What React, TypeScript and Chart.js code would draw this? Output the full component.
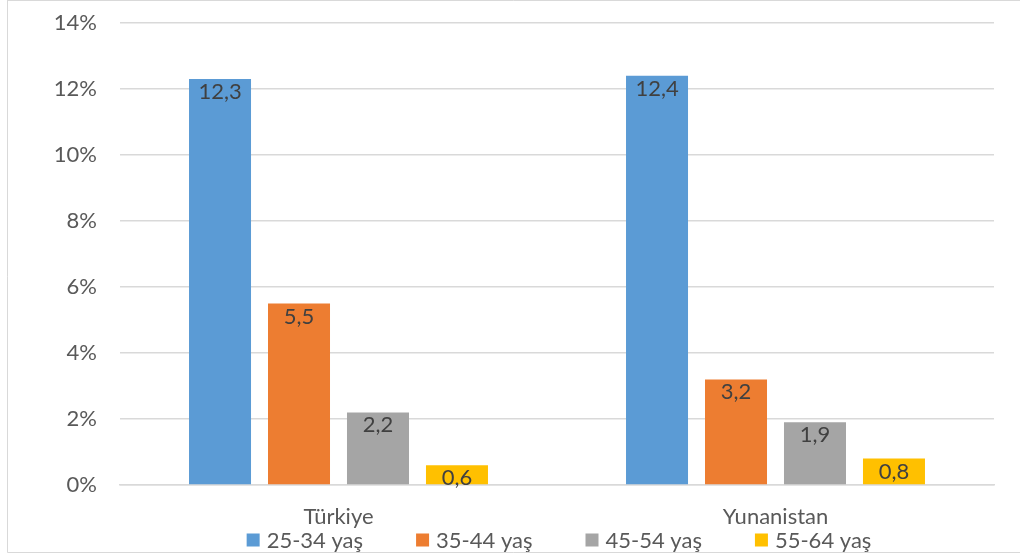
import React, { useEffect, useRef } from "react";
import { Chart, registerables } from "chart.js";

Chart.register(...registerables);

const categories = ["Türkiye", "Yunanistan"];
const seriesLabels = ["25-34 yaş", "35-44 yaş", "45-54 yaş", "55-64 yaş"];
const seriesColors = ["#5B9BD5", "#ED7D31", "#A5A5A5", "#FFC000"];
const age25to34 = [12.3, 12.4];
const age35to44 = [5.5, 3.2];
const age45to54 = [2.2, 1.9];
const age55to64 = [0.6, 0.8];
const yTicks = [0, 2, 4, 6, 8, 10, 12, 14];

const FONT = "Lato, 'Noto Sans', sans-serif";
const FONT_SIZE = 22;

const fmt = (v: number) => v.toFixed(1).replace(".", ",");

// Value labels drawn just inside the top end of every bar
const valueLabels = {
  id: "valueLabels",
  afterDatasetsDraw(chart: any) {
    const ctx = chart.ctx;
    ctx.save();
    ctx.font = `${FONT_SIZE}px ${FONT}`;
    ctx.fillStyle = "#404040";
    ctx.textAlign = "center";
    ctx.textBaseline = "middle";
    chart.data.datasets.forEach((ds: any, i: number) => {
      const meta = chart.getDatasetMeta(i);
      meta.data.forEach((el: any, j: number) => {
        ctx.fillText(fmt(ds.data[j]), el.x, el.y + 13);
      });
    });
    ctx.restore();
  },
};

// Outer frame and a bottom legend centred under the plot area
const frameAndLegend = {
  id: "frameAndLegend",
  beforeDraw(chart: any) {
    const ctx = chart.ctx;
    ctx.save();
    ctx.fillStyle = "#ffffff";
    ctx.fillRect(0, 0, chart.width, chart.height);
    ctx.strokeStyle = "#d9d9d9";
    ctx.lineWidth = 1;
    ctx.beginPath();
    ctx.moveTo(7.5, 0.5);
    ctx.lineTo(chart.width, 0.5);
    ctx.moveTo(7.5, 0);
    ctx.lineTo(7.5, 552.5);
    ctx.lineTo(chart.width, 552.5);
    ctx.stroke();
    ctx.restore();
  },
  afterDraw(chart: any) {
    const ctx = chart.ctx;
    const area = chart.chartArea;
    ctx.save();
    ctx.font = `${FONT_SIZE}px ${FONT}`;
    ctx.textBaseline = "middle";
    ctx.textAlign = "left";
    const box = 13;
    const gap = 7;
    const spacing = 53;
    const widths = chart.data.datasets.map(
      (ds: any) => box + gap + ctx.measureText(ds.label).width
    );
    const total =
      widths.reduce((a: number, b: number) => a + b, 0) +
      spacing * (widths.length - 1);
    let x = (area.left + area.right) / 2 - total / 2 + 2;
    const y = 540;
    chart.data.datasets.forEach((ds: any, i: number) => {
      ctx.fillStyle = ds.backgroundColor;
      ctx.fillRect(x, y - box / 2, box, box);
      ctx.fillStyle = "#595959";
      ctx.fillText(ds.label, x + box + gap, y + 1);
      x += widths[i] + spacing;
    });
    ctx.restore();
  },
};

export default function App() {
  const ref = useRef<HTMLCanvasElement | null>(null);

  useEffect(() => {
    if (!ref.current) return;
    const values = [age25to34, age35to44, age45to54, age55to64];
    const chart = new Chart(ref.current, {
      type: "bar",
      data: {
        labels: categories,
        datasets: seriesLabels.map((label, i) => ({
          label,
          data: values[i],
          backgroundColor: seriesColors[i],
          borderWidth: 0,
          categoryPercentage: 0.723,
          barPercentage: 0.785,
        })),
      },
      options: {
        animation: false,
        responsive: false,
        maintainAspectRatio: false,
        layout: { padding: { top: 23, right: 26, left: 0, bottom: 0 } },
        plugins: {
          legend: { display: false },
          title: { display: false },
          tooltip: { enabled: false },
        },
        scales: {
          x: {
            grid: { display: false, drawTicks: false },
            border: { display: true, color: "#d9d9d9", width: 1.5 },
            ticks: {
              color: "#595959",
              font: { family: FONT, size: FONT_SIZE },
              padding: 19,
            },
            afterFit(scale: any) {
              scale.height = 72;
              scale.paddingLeft = 0;
              scale.paddingRight = 0;
            },
          },
          y: {
            min: 0,
            max: 14,
            afterBuildTicks(scale: any) {
              scale.ticks = yTicks.map((v) => ({ value: v }));
            },
            grid: { color: "#d9d9d9", lineWidth: 1.5, drawTicks: false },
            border: { display: false },
            ticks: {
              color: "#595959",
              font: { family: FONT, size: FONT_SIZE },
              padding: 23,
              callback: (v: any) => `${v}%`,
            },
            afterFit(scale: any) {
              scale.width = 120;
              scale.paddingTop = 0;
              scale.paddingBottom = 0;
            },
          },
        },
      },
      plugins: [valueLabels, frameAndLegend],
    });
    return () => chart.destroy();
  }, []);

  return (
    <div style={{ position: "fixed", left: 0, top: 0, width: 1020, height: 557 }}>
      <canvas ref={ref} width={1020} height={557} />
    </div>
  );
}
